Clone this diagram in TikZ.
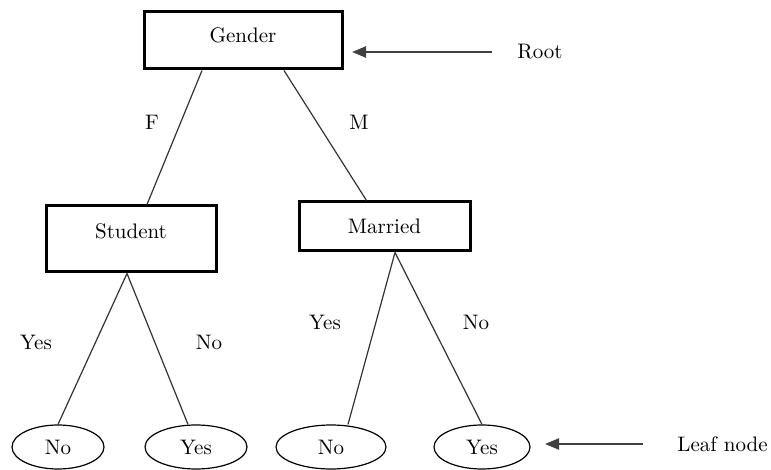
\documentclass[tikz,border=0pt]{standalone}
\usetikzlibrary{arrows.meta,shapes.geometric}

\begin{document}
\begin{tikzpicture}[
    x=0.5pt, y=-0.5pt,
    % --- Styles ---
    % Thick framed boxes for the tests
    test node/.style={draw, line width=1.5pt, inner sep=0pt, text height=7.5pt,
        font=\rmfamily\fontsize{10.5}{13}\selectfont},
    % Leaves are thin ellipses
    leaf node/.style={draw, ellipse, line width=0.6pt, inner sep=0pt,
        font=\rmfamily\fontsize{10.5}{13}\selectfont},
    branch line/.style={draw=black!80, line width=0.6pt},
    branch label/.style={font=\rmfamily\fontsize{10.5}{13}\selectfont},
    side note/.style={font=\rmfamily\fontsize{10.5}{13}\selectfont, inner sep=0pt},
    pointer/.style={draw=black!75, line width=1.1pt, -{Triangle[length=7pt,width=5.5pt]}}
]

%================CONFIGURATION================
% picture is measured in pixels of a 771 x 470 frame
\def\leafY{447}
\def\leafH{22pt}
%=============================================

\useasboundingbox (0,0) rectangle (771,470);

% --- 1. Test boxes ---
\node[test node, minimum width=99pt, minimum height=28.5pt, text depth=5.5pt] (Gender) at (243,40.5) {Gender};
\node[test node, minimum width=85pt, minimum height=33pt, text depth=8pt] (Student) at (131,239) {Student};
\node[test node, minimum width=85.5pt, minimum height=24.5pt] (Married) at (384.5,226.5) {Married};

% --- 2. Leaves ---
\foreach \name/\xc/\w/\txt in {LeafA/58/46pt/No, LeafB/196/51pt/Yes, LeafC/331/55pt/No, LeafD/482/48pt/Yes} {
    \node[leaf node, minimum width=\w, minimum height=\leafH] (\name) at (\xc,\leafY) {\txt};
}

% --- 3. Branches ---
\draw[branch line] ([xshift=-20.5pt]Gender.south) -- ([xshift=8pt]Student.north);
\draw[branch line] ([xshift=20.5pt]Gender.south) -- ([xshift=-9pt]Married.north);

\draw[branch line] ([xshift=-2pt]Student.south) -- (LeafA.north);
\draw[branch line] ([xshift=-2pt]Student.south) -- ([xshift=-4pt]LeafB.north);

\draw[branch line] ([xshift=5.25pt]Married.south) -- ([xshift=8.5pt]LeafC.north);
\draw[branch line] ([xshift=5.25pt]Married.south) -- (LeafD.north);

% Branch values
\node[branch label] (lblF) at (152,122) {F};
\node[branch label] (lblM) at (359,122) {M};
\node[branch label] (lblStuYes) at (36,342) {Yes};
\node[branch label] (lblStuNo) at (209,342) {No};
\node[branch label] (lblMarYes) at (325,322) {Yes};
\node[branch label] (lblMarNo) at (476,322) {No};

% --- 4. Side notes with pointers ---
\node[side note, anchor=west] (Root) at (517,52) {Root};
\coordinate (rootTip) at (352,52);
\draw[pointer, shorten <=12.5pt] (Root.west) -- (rootTip);

\node[side note, anchor=east] (LeafNote) at (768,444) {Leaf node};
\coordinate (leafTip) at (545,444);
\draw[pointer, shorten <=17pt] (LeafNote.west) -- (leafTip);

\end{tikzpicture}
\end{document}
